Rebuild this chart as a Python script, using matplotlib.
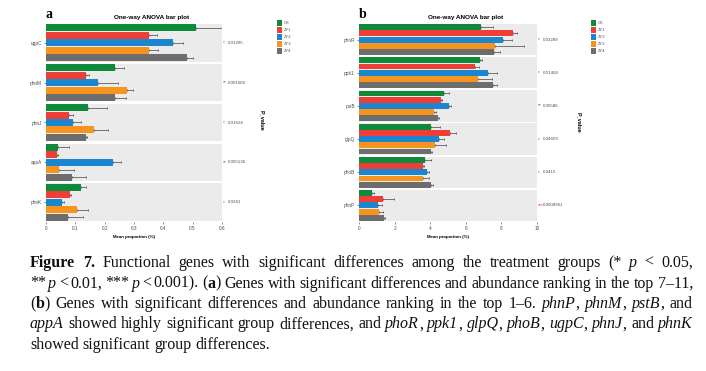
import re
import matplotlib
matplotlib.use("Agg")
import matplotlib.pyplot as plt
from matplotlib.patches import Rectangle

W, H = 706, 371

groups = ["CK", "ZY1", "ZY2", "ZY3", "ZY4"]
colors = ["#0f8a3c", "#ef3e36", "#1a86d0", "#f7941d", "#6d6d6d"]

# panel a: genes ranked 7-11
genes_a = ["ugpC", "phnM", "phnJ", "appA", "phnK"]
mean_a = [
    [0.510, 0.350, 0.433, 0.350, 0.481],
    [0.235, 0.136, 0.176, 0.277, 0.235],
    [0.142, 0.079, 0.093, 0.163, 0.138],
    [0.042, 0.036, 0.227, 0.045, 0.088],
    [0.119, 0.081, 0.053, 0.107, 0.076],
]
sd_a = [
    [0.170, 0.030, 0.034, 0.032, 0.020],
    [0.030, 0.011, 0.070, 0.018, 0.037],
    [0.066, 0.014, 0.025, 0.049, 0.003],
    [0.036, 0.006, 0.030, 0.050, 0.048],
    [0.019, 0.004, 0.008, 0.035, 0.051],
]
pvals_a = ["0.01205", "0.001002", "0.01624", "0.005136", "0.0241"]
stars_a = ["*", "**", "*", "**", "*"]
xticks_a = [0, 0.1, 0.2, 0.3, 0.4, 0.5, 0.6]

# panel b: genes ranked 1-6
genes_b = ["phoR", "ppk1", "pstB", "glpQ", "phoB", "phnP"]
mean_b = [
    [6.87, 8.65, 8.09, 7.62, 7.58],
    [6.77, 6.53, 7.24, 6.68, 7.54],
    [4.80, 4.62, 5.07, 4.22, 4.43],
    [4.05, 5.12, 4.48, 4.28, 4.05],
    [3.68, 3.62, 3.81, 3.62, 4.05],
    [0.75, 1.37, 1.09, 1.14, 1.43],
]
sd_b = [
    [0.63, 0.22, 0.50, 1.63, 0.32],
    [0.13, 0.19, 0.51, 0.79, 0.21],
    [0.23, 0.03, 0.11, 0.10, 0.09],
    [0.51, 0.32, 0.32, 0.60, 0.04],
    [0.37, 0.04, 0.15, 0.32, 0.13],
    [0.09, 0.62, 0.19, 0.23, 0.03],
]
pvals_b = ["0.03289", "0.01404", "0.00586", "0.04609", "0.0415", "0.0008961"]
stars_b = ["*", "*", "**", "*", "*", "***"]
xticks_b = [0, 2, 4, 6, 8, 10]

# caption markup: ^bold^, _italic_, ~ = thin space inside a word
caption = [
    "^Figure^ ^7.^ Functional genes with significant differences among the treatment groups (* _p_ < 0.05,",
    "**~_p_~<~0.01, ***~_p_~<~0.001). (^a^) Genes with significant differences and abundance ranking in the top 7–11,",
    "(^b^) Genes with significant differences and abundance ranking in the top 1–6. _phnP_, _phnM_, _pstB_, and",
    "_appA_ showed highly significant group differences, and _phoR_, _ppk1_, _glpQ_, _phoB_, _ugpC_, _phnJ_, and _phnK_",
    "showed significant group differences.",
]

SANS = "Liberation Sans"
SERIF = "Liberation Serif"


def fx(px):
    return px / W


def fy(px):
    return 1 - px / H


def draw_panel(fig, left, right, genes, means, sds, pvals, stars, xticks, letter, legend_x, pv_x, pv_y):
    ax = fig.add_axes([fx(left), fy(222), fx(right - left), (222 - 23) / H])
    n = len(genes)
    gap = 0.06
    h = (1 - gap) / 5
    trans = ax.get_yaxis_transform()
    for i, g in enumerate(genes):
        ax.add_patch(Rectangle((0, i - 0.5 + gap / 2), 1, 1 - gap, transform=trans,
                               facecolor="#ebebeb", edgecolor="none", zorder=0))
        for j in range(5):
            y = i - 2 * h + j * h
            ax.barh(y, means[i][j], height=h * 0.94, color=colors[j],
                    edgecolor="none", zorder=2)
            ax.errorbar(means[i][j], y, xerr=[[0], [sds[i][j]]], fmt="none",
                        ecolor="#444444", elinewidth=0.5, capsize=1.0,
                        capthick=0.5, zorder=3)
        ax.text(1.006, i, stars[i], transform=trans, color="#ef3e36",
                fontsize=3.5, ha="left", va="center", family=SANS)
        ax.text(1.032, i, pvals[i], transform=trans, color="#4d4d4d",
                fontsize=3.2, ha="left", va="center", family=SANS)
    ax.set_xlim(0, xticks[-1])
    ax.set_ylim(n - 0.5, -0.5)
    ax.set_xticks(xticks)
    ax.set_xticklabels([f"{t:g}" for t in xticks])
    ax.set_yticks(range(n))
    ax.set_yticklabels(genes)
    for s in ax.spines.values():
        s.set_visible(False)
    ax.tick_params(axis="both", length=1.5, width=0.4, color="#333333",
                   labelsize=3.4, labelcolor="#4d4d4d", pad=1.5)
    for lab in ax.get_xticklabels() + ax.get_yticklabels():
        lab.set_family(SANS)
    ax.set_xlabel("Mean proportion (%)", fontsize=3.2, fontweight="bold",
                  family=SANS, labelpad=2.5)

    # title, panel letter, p-value axis title
    fig.text(fx(left + (right - left) * 0.6), fy(17), "One-way ANOVA bar plot",
             fontsize=4.6, fontweight="bold", family=SANS, ha="center", va="center")
    fig.text(fx(left), fy(15), letter, fontsize=10, fontweight="bold",
             family=SERIF, ha="left", va="center")
    fig.text(fx(pv_x), fy(pv_y), "P_value", rotation=-90, fontsize=4,
             fontweight="bold", family=SANS, ha="center", va="center")

    # legend
    for k, (g, c) in enumerate(zip(groups, colors)):
        yc = 23 + 7 * k
        fig.add_artist(Rectangle((fx(legend_x), fy(yc + 2.5)), fx(5), 5 / H,
                                 transform=fig.transFigure, facecolor=c,
                                 edgecolor="none"))
        fig.text(fx(legend_x + 6.5), fy(yc), g, fontsize=3, color="#4d4d4d",
                 family=SANS, ha="left", va="center")
    return ax


def parse_word(word):
    segs = []
    for p in re.split(r"(_[^_]+_|\^[^\^]+\^|~)", word):
        if not p:
            continue
        if p == "~":
            segs.append(("", "thin"))
        elif p.startswith("_"):
            segs.append((p[1:-1], "i"))
        elif p.startswith("^"):
            segs.append((p[1:-1], "b"))
        else:
            segs.append((p, "n"))
    return segs


def seg_props(style):
    if style == "i":
        return {"style": "italic"}
    if style == "b":
        return {"weight": "bold"}
    return {}


def draw_caption(fig, lines, x0, x1, baselines):
    renderer = fig.canvas.get_renderer()

    def width(s, style, fs):
        if style == "thin":
            return fs * 100 / 72 * 0.15
        t = fig.text(0, 0, s, fontsize=fs, family=SERIF, **seg_props(style))
        w = t.get_window_extent(renderer).width
        t.remove()
        return w

    # pick the size at which the widest justified line fits with slightly tight spaces
    ref = 10.0
    sp10 = width("a a", "n", ref) - width("aa", "n", ref)
    natural = []
    for line in lines[:-1]:
        words = [parse_word(w) for w in line.split(" ")]
        tot = sum(width(s, st, ref) for wd in words for s, st in wd)
        natural.append(tot + 0.8 * sp10 * (len(words) - 1))
    fs = ref * (x1 - x0) / max(natural)
    space = width("a a", "n", fs) - width("aa", "n", fs)

    for li, line in enumerate(lines):
        words = [parse_word(w) for w in line.split(" ")]
        widths = [[width(s, st, fs) for s, st in wd] for wd in words]
        total = sum(sum(w) for w in widths)
        if li < len(lines) - 1:
            gap = (x1 - x0 - total) / (len(words) - 1)
        else:
            gap = space
        x = x0
        for wd, ws in zip(words, widths):
            for (s, st), w in zip(wd, ws):
                if st != "thin":
                    fig.text(fx(x), fy(baselines[li]), s, fontsize=fs, family=SERIF,
                             ha="left", va="baseline", color="#111111", **seg_props(st))
                x += w
            x += gap


fig = plt.figure(figsize=(W / 100, H / 100), dpi=100)
fig.patch.set_facecolor("white")

draw_panel(fig, 46, 222, genes_a, mean_a, sd_a, pvals_a, stars_a, xticks_a,
           "a", 277, 262, 120)
draw_panel(fig, 359, 537, genes_b, mean_b, sd_b, pvals_b, stars_b, xticks_b,
           "b", 591, 579, 122)

draw_caption(fig, caption, 30, 693, [267, 287.5, 308, 328.5, 349])

fig.savefig("out.png", dpi=100)
